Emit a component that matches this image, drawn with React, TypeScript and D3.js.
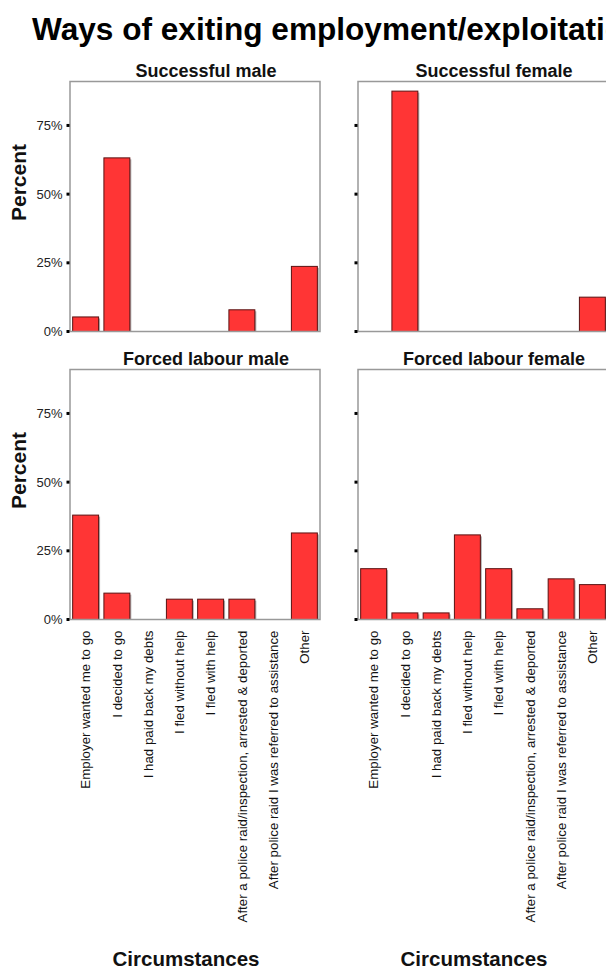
import React from "react";
import * as d3 from "d3";

const categories = [
  "Employer wanted me to go",
  "I decided to go",
  "I had paid back my debts",
  "I fled without help",
  "I fled with help",
  "After a police raid/inspection, arrested & deported",
  "After police raid I was referred to assistance",
  "Other",
];

const successfulMale = [5.3, 63.2, 0, 0, 0, 7.9, 0, 23.7];
const successfulFemale = [0, 87.5, 0, 0, 0, 0, 0, 12.5];
const forcedMale = [38.0, 9.6, 0, 7.4, 7.4, 7.4, 0, 31.5];
const forcedFemale = [18.5, 2.4, 2.4, 30.8, 18.5, 3.9, 14.8, 12.7];

const panelTitles = ["Successful male", "Successful female", "Forced labour male", "Forced labour female"];
const yTicks = [0, 25, 50, 75];
const yMax = 91;

const FONT = "'Liberation Sans', Arial, Helvetica, sans-serif";

type PanelProps = {
  title: string;
  values: number[];
  x0: number;
  y0: number;
  showTickLabels: boolean;
  showYTitle: boolean;
  showCatLabels: boolean;
};

function Panel({ title, values, x0, y0, showTickLabels, showYTitle, showCatLabels }: PanelProps) {
  const w = 250;
  const h = 250;
  const x = d3.scaleBand<string>().domain(categories).range([x0, x0 + w]).paddingInner(0.17).paddingOuter(0.085);
  const y = d3.scaleLinear().domain([0, yMax]).range([y0 + h, y0]);
  return (
    <g>
      <text x={x0 + w / 2 + 11} y={y0 - 5} textAnchor="middle" fontFamily={FONT} fontWeight="bold" fontSize={18} fill="#111">
        {title}
      </text>
      {values.map((v, i) =>
        v > 0 ? (
          <g key={i}>
            <rect x={(x(categories[i]) as number) + 1.5} y={y(v) + 1.5} width={x.bandwidth()} height={y(0) - y(v) - 1.5} fill="#b0b0b0" />
            <rect x={x(categories[i]) as number} y={y(v)} width={x.bandwidth()} height={y(0) - y(v)} fill="#ff3535" stroke="#5a1212" strokeWidth={1} />
          </g>
        ) : null
      )}
      <rect x={x0} y={y0} width={w} height={h} fill="none" stroke="#999" strokeWidth={1.5} />
      {yTicks.map((t) => (
        <g key={t}>
          <rect x={x0 - 3.5} y={y(t) - 1.5} width={3} height={3} fill="#000" />
          {showTickLabels && (
            <text x={x0 - 7.5} y={y(t)} dy="0.36em" textAnchor="end" fontFamily={FONT} fontSize={13} fill="#222">
              {t + "%"}
            </text>
          )}
        </g>
      ))}
      {showYTitle && (
        <text transform={`translate(26,${y0 + h / 2 - 24}) rotate(-90)`} textAnchor="middle" fontFamily={FONT} fontWeight="bold" fontSize={21} fill="#111">
          Percent
        </text>
      )}
      {showCatLabels &&
        categories.map((c) => (
          <text
            key={c}
            transform={`translate(${(x(c) as number) + x.bandwidth() / 2},${y0 + h + 11}) rotate(-90)`}
            dy="0.35em"
            textAnchor="end"
            fontFamily={FONT}
            fontSize={13.3}
            fill="#111"
          >
            {c}
          </text>
        ))}
      {showCatLabels && (
        <text x={x0 + w / 2 - 9} y={966} textAnchor="middle" fontFamily={FONT} fontWeight="bold" fontSize={20.5} fill="#111">
          Circumstances
        </text>
      )}
    </g>
  );
}

export default function App() {
  return (
    <svg width={606} height={969} style={{ position: "absolute", left: 0, top: 0, background: "#fff" }}>
      <rect x={0} y={0} width={606} height={969} fill="#fff" />
      <text x={32} y={39.5} fontFamily={FONT} fontWeight="bold" fontSize={31.6} fill="#000">
        Ways of exiting employment/exploitation
      </text>
      <Panel title={panelTitles[0]} values={successfulMale} x0={70} y0={81.5} showTickLabels showYTitle showCatLabels={false} />
      <Panel title={panelTitles[1]} values={successfulFemale} x0={358} y0={81.5} showTickLabels={false} showYTitle={false} showCatLabels={false} />
      <Panel title={panelTitles[2]} values={forcedMale} x0={70} y0={369.5} showTickLabels showYTitle showCatLabels />
      <Panel title={panelTitles[3]} values={forcedFemale} x0={358} y0={369.5} showTickLabels={false} showYTitle={false} showCatLabels />
    </svg>
  );
}
